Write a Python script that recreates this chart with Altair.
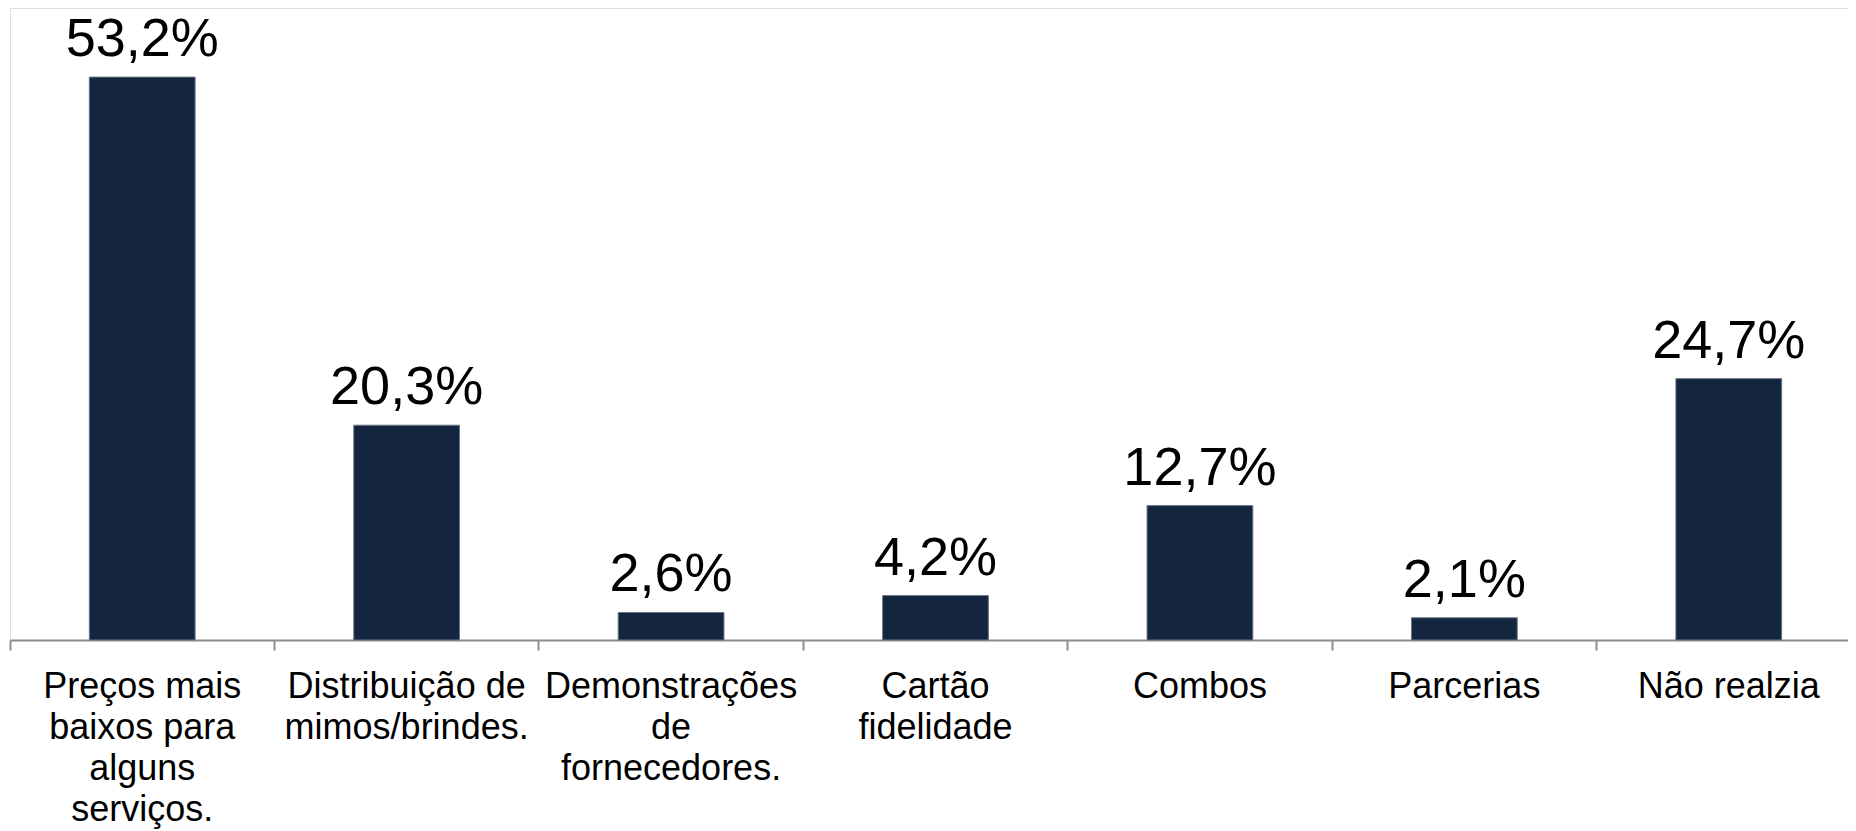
import altair as alt
import pandas as pd

categories = [
    "Preços mais\nbaixos para\nalguns\nserviços.",
    "Distribuição de\nmimos/brindes.",
    "Demonstrações\nde\nfornecedores.",
    "Cartão\nfidelidade",
    "Combos",
    "Parcerias",
    "Não realzia",
]
values = [53.2, 20.3, 2.6, 4.2, 12.7, 2.1, 24.7]
value_labels = ["53,2%", "20,3%", "2,6%", "4,2%", "12,7%", "2,1%", "24,7%"]

df = pd.DataFrame({"cat": categories, "val": values, "lbl": value_labels})

font = "Liberation Sans"
x = alt.X(
    "cat:N",
    sort=categories,
    title=None,
    scale=alt.Scale(range=[0, 1851], paddingInner=0, paddingOuter=0),
    axis=alt.Axis(
        labelAngle=0,
        labelExpr="split(datum.label, '\\n')",
        labelFont=font,
        labelFontSize=36,
        labelLineHeight=41,
        labelColor="#000000",
        labelPadding=19,
        labelLimit=400,
        tickSize=10,
        tickColor="#8c8c8c",
        tickWidth=2,
        domainColor="#8c8c8c",
        domainWidth=2,
        bandPosition=0,
        grid=False,
    ),
)
y = alt.Y(
    "val:Q",
    scale=alt.Scale(domain=[0, 59.73], nice=False),
    axis=None,
)

bars = alt.Chart(df).mark_bar(
    width={"band": 0.4}, color="#13253f", stroke="#6b7585", strokeWidth=1
).encode(x=x, y=y)

texts = alt.Chart(df).mark_text(
    baseline="alphabetic", dy=-21, font=font, fontSize=54, color="#000000"
).encode(x=alt.X("cat:N", sort=categories, bandPosition=0.5), y="val:Q", text="lbl:N")

chart = (
    alt.layer(bars, texts)
    .properties(
        width=1838,
        height=632,
        autosize=alt.AutoSizeParams(type="none"),
        padding={"left": 2, "top": 0, "right": 0, "bottom": 191},
    )
    .configure_view(stroke=None)
    .configure(background="white")
)

chart.save("out.html", embed_options={"renderer": "svg", "actions": False})
